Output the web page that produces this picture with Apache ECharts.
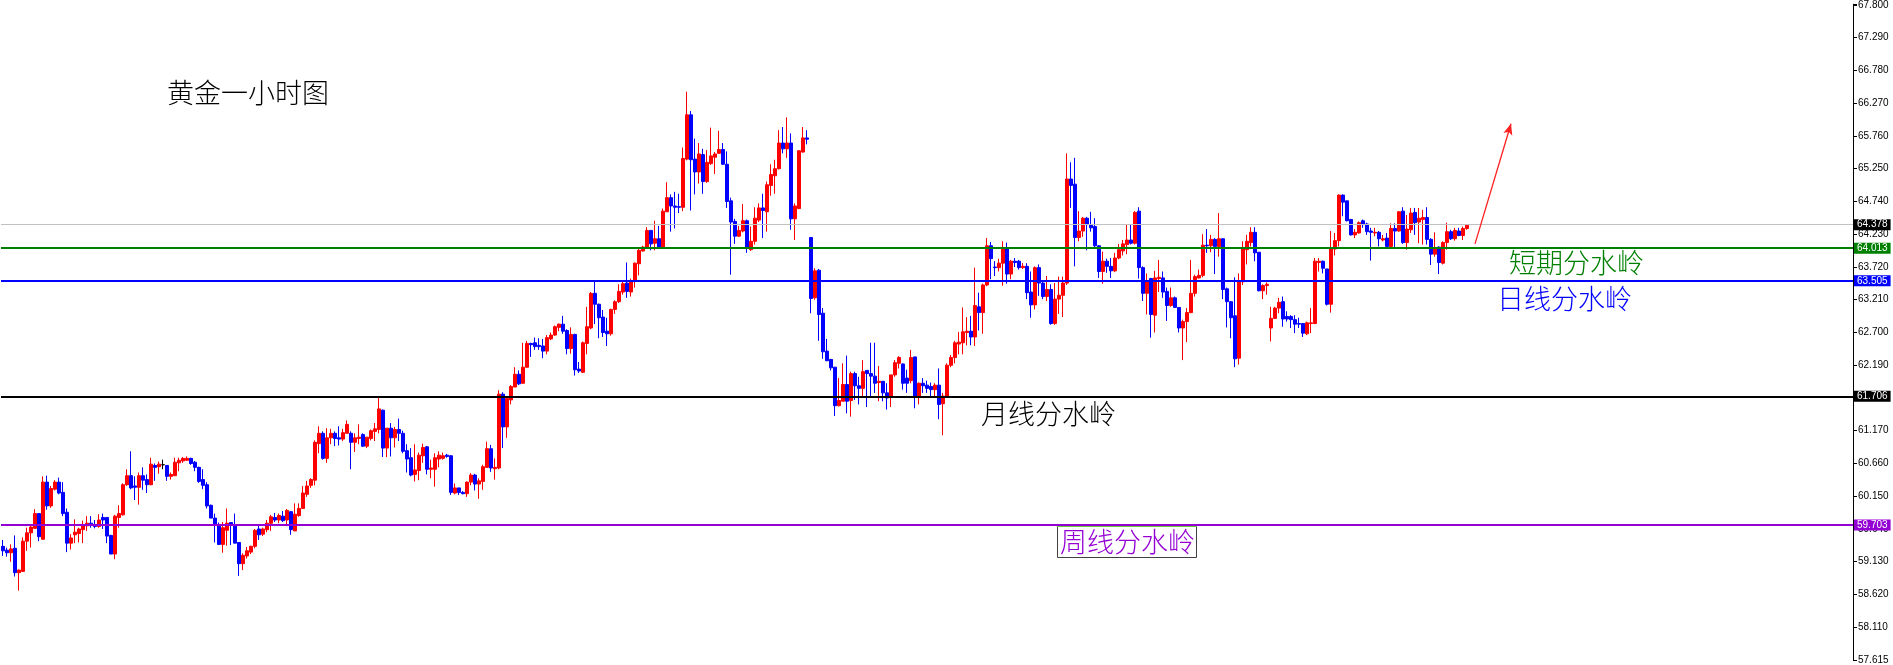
<!DOCTYPE html>
<html><head><meta charset="utf-8">
<script src="https://cdn.jsdelivr.net/npm/echarts@6.0.0/dist/echarts.min.js"></script>
<style>html,body{margin:0;padding:0;background:#fff;}#c{width:1893px;height:665px;}</style>
</head><body><div id="c"></div>
<script>
// Hourly gold candles, oldest first
const opens = [
59.37,59.31,59.27,59.34,58.96,58.98,59.45,59.58,59.65,59.88,
59.48,60.37,60.00,60.26,60.37,60.21,59.90,59.42,59.55,59.57,
59.63,59.69,59.73,59.70,59.68,59.82,59.82,59.54,59.25,59.82,
59.86,60.33,60.47,60.31,60.29,60.47,60.41,60.33,60.63,60.61,
60.64,60.63,60.46,60.47,60.67,60.70,60.71,60.74,60.68,60.60,
60.41,60.33,60.01,59.81,59.71,59.40,59.62,59.74,59.70,59.43,
59.10,59.22,59.28,59.37,59.64,59.56,59.63,59.73,59.82,59.78,
59.84,59.78,59.91,59.61,59.85,59.96,60.18,60.32,60.40,60.97,
61.13,60.74,61.06,61.13,61.06,61.04,61.13,61.13,60.99,61.05,
61.11,60.93,61.05,61.16,61.19,61.49,60.90,61.21,61.06,61.19,
61.13,60.86,60.75,60.49,60.55,60.78,60.92,60.57,60.57,60.73,
60.74,60.79,60.78,60.20,60.28,60.21,60.19,60.37,60.48,60.34,
60.38,60.60,60.89,60.58,60.59,61.74,61.23,61.65,61.85,62.05,
61.91,62.16,62.53,62.54,62.50,62.49,62.41,62.60,62.66,62.78,
62.83,62.73,62.45,62.67,62.13,62.08,62.53,62.77,63.31,63.14,
62.94,62.72,62.68,63.06,63.18,63.33,63.47,63.33,63.50,63.77,
63.97,64.03,64.29,64.09,64.16,64.02,64.58,64.80,64.67,64.66,
64.65,65.40,66.09,65.40,65.20,65.47,65.05,65.33,65.43,65.49,
65.55,65.32,64.75,64.43,64.20,64.28,64.44,63.99,64.12,64.45,
64.64,64.58,64.99,65.14,65.25,65.65,65.56,65.65,64.47,64.63,
65.51,65.73,64.18,63.24,63.67,63.00,62.41,62.28,62.16,61.56,
61.63,61.89,61.64,62.06,61.87,61.83,62.11,62.06,62.02,61.92,
61.94,61.76,61.71,62.04,62.22,62.21,61.99,61.95,62.32,61.71,
61.91,61.88,61.86,61.81,61.88,61.59,61.71,62.19,62.31,62.52,
62.54,62.70,62.72,62.63,63.10,63.01,63.44,64.05,63.72,63.71,
63.78,64.00,63.61,63.81,63.81,63.71,63.73,63.33,63.13,63.71,
63.47,63.26,63.37,62.84,63.22,63.28,63.47,65.09,65.01,64.18,
64.28,64.48,64.38,64.35,64.05,63.65,63.81,63.73,63.66,63.86,
63.97,64.07,64.14,64.09,64.59,63.71,63.31,63.54,62.97,63.54,
63.55,63.34,63.12,63.24,63.09,62.77,62.87,63.01,63.31,63.55,
63.59,64.06,64.05,64.15,64.04,64.16,63.38,63.18,62.96,62.30,
63.49,63.99,64.10,64.26,63.95,63.35,63.43,62.77,62.92,63.08,
63.18,62.95,62.95,62.90,62.84,62.84,62.68,62.84,62.84,63.79,
63.81,63.69,63.14,64.00,64.13,64.84,64.75,64.46,64.22,64.25,
64.44,64.39,64.28,64.25,64.26,64.14,64.17,64.04,64.32,64.28,
64.59,64.10,64.30,64.57,64.42,64.46,64.49,64.15,63.92,64.03,
63.78,64.10,64.27,64.16,64.28,64.21,64.32
];
const closes = [
59.30,59.27,59.33,58.96,59.00,59.45,59.58,59.67,59.88,59.52,
60.37,60.00,60.27,60.37,60.20,59.88,59.42,59.50,59.59,59.64,
59.70,59.73,59.71,59.68,59.78,59.78,59.53,59.25,59.84,59.88,
60.33,60.47,60.28,60.29,60.47,60.40,60.33,60.65,60.60,60.65,
60.64,60.46,60.49,60.68,60.71,60.74,60.74,60.66,60.60,60.38,
60.32,60.00,59.81,59.71,59.40,59.66,59.73,59.70,59.42,59.10,
59.23,59.30,59.37,59.62,59.55,59.64,59.73,59.83,59.78,59.85,
59.77,59.93,59.63,59.87,59.96,60.20,60.31,60.41,60.99,61.13,
60.74,61.06,61.13,61.05,61.04,61.14,61.27,60.99,61.06,61.07,
60.93,61.07,61.17,61.20,61.51,60.90,61.21,61.06,61.19,61.13,
60.85,60.73,60.48,60.56,60.79,60.91,60.57,60.59,60.75,60.79,
60.78,60.77,60.21,60.28,60.21,60.19,60.37,60.48,60.34,60.39,
60.61,60.89,60.59,60.60,61.74,61.23,61.67,61.86,62.05,61.90,
62.16,62.53,62.51,62.48,62.48,62.41,62.62,62.66,62.79,62.83,
62.72,62.45,62.67,62.12,62.10,62.54,62.79,63.31,63.14,62.93,
62.70,62.68,63.06,63.18,63.34,63.46,63.34,63.51,63.78,63.98,
64.03,64.29,64.08,64.16,64.03,64.59,64.80,64.67,64.65,64.65,
65.41,66.09,65.39,65.20,65.48,65.05,65.35,65.45,65.48,65.55,
65.32,64.74,64.42,64.20,64.29,64.44,64.03,64.12,64.48,64.64,
64.60,65.00,65.16,65.25,65.65,65.56,65.65,64.47,64.67,65.53,
65.73,65.71,63.23,63.66,62.98,62.40,62.26,62.15,61.56,61.64,
61.89,61.63,62.06,61.87,61.83,62.09,62.06,62.02,61.91,61.94,
61.76,61.68,62.04,62.23,62.31,61.91,61.91,62.31,61.71,61.91,
61.87,61.83,61.81,61.88,61.58,61.71,62.19,62.31,62.54,62.55,
62.71,62.72,62.63,63.12,63.01,63.44,64.05,63.85,63.71,63.78,
64.00,63.61,63.81,63.79,63.71,63.73,63.32,63.13,63.71,63.47,
63.26,63.37,62.84,63.22,63.28,63.47,65.09,64.99,64.18,64.28,
64.48,64.38,64.33,64.05,63.65,63.81,63.73,63.66,63.86,63.99,
64.08,64.14,64.09,64.57,63.71,63.31,63.49,62.98,63.55,63.56,
63.33,63.12,63.24,63.09,62.77,62.87,63.01,63.31,63.57,63.59,
64.06,64.05,64.15,64.04,64.16,63.37,63.18,62.93,62.29,63.49,
64.00,64.12,64.26,63.94,63.35,63.43,63.45,62.92,63.08,63.17,
62.91,62.91,62.90,62.83,62.83,62.69,62.85,62.85,63.81,63.81,
63.70,63.14,64.00,64.13,64.84,64.73,64.44,64.22,64.26,64.41,
64.38,64.27,64.26,64.26,64.16,64.16,64.04,64.32,64.28,64.58,
64.10,64.31,64.56,64.41,64.48,64.49,64.15,63.92,64.00,63.79,
64.10,64.27,64.16,64.29,64.21,64.32,64.37
];
const lows = [
59.22,59.21,59.13,58.90,58.68,58.97,59.30,59.35,59.64,59.45,
59.47,59.94,59.97,60.24,60.18,59.84,59.28,59.32,59.42,59.43,
59.42,59.61,59.66,59.65,59.66,59.64,59.42,59.25,59.17,59.66,
59.85,60.31,60.26,60.09,60.02,60.25,60.20,60.32,60.39,60.50,
60.57,60.39,60.41,60.47,60.54,60.67,60.70,60.64,60.54,60.36,
60.26,59.96,59.81,59.43,59.39,59.27,59.38,59.39,59.42,58.91,
59.00,59.18,59.25,59.34,59.47,59.53,59.59,59.61,59.75,59.73,
59.75,59.70,59.55,59.61,59.83,59.95,60.14,60.28,60.32,60.82,
60.72,60.67,60.96,60.93,60.94,61.01,61.13,60.57,60.84,60.96,
60.92,60.90,61.02,61.01,61.13,60.76,60.76,60.77,60.91,61.01,
60.82,60.52,60.46,60.38,60.40,60.67,60.49,60.43,60.30,60.60,
60.72,60.75,60.17,60.18,60.17,60.18,60.14,60.32,60.24,60.11,
60.25,60.59,60.53,60.41,60.57,60.90,61.06,61.58,61.85,61.88,
61.90,62.15,62.32,62.43,62.43,62.30,62.36,62.58,62.65,62.72,
62.68,62.36,62.37,62.03,62.07,62.07,62.36,62.75,62.83,62.61,
62.63,62.49,62.65,62.99,63.16,63.29,63.24,63.26,63.40,63.59,
63.96,64.01,63.98,63.98,64.00,64.01,64.58,64.27,64.32,64.56,
64.59,65.38,64.60,64.85,65.02,64.86,65.03,65.31,65.17,65.48,
65.31,64.64,63.60,64.08,64.19,64.26,63.94,63.97,64.07,64.42,
64.17,64.27,64.83,64.86,65.24,65.49,65.42,64.30,64.14,64.62,
65.50,65.63,63.00,63.21,62.57,62.29,62.26,62.11,61.40,61.55,
61.63,61.44,61.39,61.65,61.58,61.71,61.54,61.71,61.76,61.63,
61.63,61.50,61.54,62.01,62.14,61.81,61.76,61.91,61.52,61.58,
61.76,61.76,61.71,61.71,61.35,61.10,61.68,62.16,62.22,62.36,
62.36,62.50,62.50,62.49,62.73,62.68,63.42,63.53,63.58,63.65,
63.43,63.46,63.53,63.72,63.68,63.69,63.22,62.93,63.06,63.27,
63.22,63.19,62.82,62.82,62.99,62.94,63.44,64.64,63.73,64.12,
64.19,63.98,64.27,64.01,63.55,63.46,63.63,63.55,63.64,63.84,
63.90,63.92,64.07,64.07,63.54,63.19,62.98,62.62,62.70,63.33,
63.24,62.88,63.10,63.08,62.70,62.27,62.55,63.00,63.26,63.54,
63.56,63.94,63.95,63.61,63.88,63.22,62.78,62.61,62.16,62.20,
63.44,63.76,64.04,63.81,63.34,63.22,63.29,62.56,62.91,63.00,
62.79,62.87,62.77,62.69,62.77,62.63,62.66,62.69,62.83,63.65,
63.62,63.12,63.01,63.90,64.04,64.51,64.43,64.21,64.17,64.24,
64.33,64.22,63.82,64.20,64.04,64.12,64.02,64.02,64.03,64.27,
64.08,63.99,64.25,64.22,64.09,64.07,64.07,63.75,63.88,63.61,
63.76,63.99,64.14,64.13,64.20,64.14,64.30
];
const highs = [
59.47,59.35,59.40,59.54,59.01,59.51,59.66,59.71,59.95,59.88,
60.46,60.47,60.31,60.40,60.44,60.37,59.96,59.56,59.79,59.66,
59.77,59.84,59.84,59.78,59.87,59.88,59.82,59.55,59.86,60.01,
60.35,60.57,60.85,60.46,60.52,60.60,60.49,60.75,60.66,60.69,
60.72,60.63,60.52,60.75,60.75,60.76,60.77,60.75,60.70,60.61,
60.57,60.37,60.02,59.88,59.74,59.75,59.96,59.74,59.88,59.43,
59.26,59.36,59.38,59.64,59.69,59.66,59.78,59.86,59.89,59.88,
59.92,59.95,59.91,60.04,60.04,60.31,60.39,60.43,61.02,61.24,
61.16,61.21,61.20,61.16,61.24,61.20,61.33,61.16,61.13,61.27,
61.13,61.07,61.19,61.29,61.68,61.50,61.21,61.29,61.23,61.36,
61.17,60.96,60.90,60.96,60.83,60.97,60.93,60.72,60.82,60.85,
60.83,60.81,60.79,60.35,60.28,60.23,60.38,60.51,60.50,60.43,
60.64,61.00,60.95,60.74,61.80,61.77,61.70,61.88,62.16,62.11,
62.54,62.57,62.54,62.62,62.61,62.60,62.66,62.70,62.81,62.84,
62.96,62.75,62.78,62.68,62.24,62.56,63.10,63.33,63.50,63.15,
63.05,62.93,63.07,63.20,63.45,63.50,63.79,63.54,63.79,64.00,
64.05,64.34,64.29,64.44,64.36,64.63,65.04,64.85,64.89,64.86,
65.58,66.45,66.15,65.72,65.65,65.56,65.54,65.89,65.51,65.84,
65.65,65.52,64.80,64.47,64.36,64.70,64.46,64.35,64.65,64.71,
64.86,65.05,65.32,65.39,65.85,65.90,66.05,65.80,64.71,65.54,
65.90,65.85,64.18,63.70,63.69,63.08,62.60,62.29,62.16,61.99,
62.22,62.34,62.09,62.09,62.01,62.27,62.11,62.54,62.54,62.18,
61.94,61.91,62.04,62.27,62.33,62.22,62.12,62.43,62.32,61.92,
61.99,61.95,61.92,61.91,62.14,61.76,62.22,62.35,62.57,62.71,
63.09,62.94,62.96,63.71,63.32,63.46,64.17,64.11,63.81,63.85,
64.12,64.10,63.83,63.86,63.83,63.78,63.78,63.65,63.73,63.76,
63.49,63.58,63.45,63.47,63.57,63.57,65.49,65.35,65.42,64.59,
64.50,64.50,64.58,64.48,64.06,63.96,63.85,63.86,63.94,64.08,
64.14,64.39,64.38,64.59,64.65,63.73,63.62,63.55,63.66,63.83,
63.65,63.40,63.40,63.26,63.09,62.90,63.08,63.83,63.60,63.68,
64.23,64.31,64.22,64.17,64.56,64.16,63.40,63.19,63.56,63.62,
64.12,64.22,64.34,64.34,63.95,63.45,63.48,63.10,63.10,63.24,
63.26,63.03,62.97,62.97,62.93,62.84,62.87,63.08,63.86,63.86,
63.82,63.69,64.28,64.25,64.85,64.85,64.75,64.47,64.31,64.43,
64.46,64.41,64.33,64.33,64.28,64.22,64.25,64.40,64.40,64.59,
64.65,64.53,64.64,64.64,64.64,64.61,64.65,64.17,64.26,64.04,
64.12,64.41,64.30,64.33,64.33,64.35,64.38
];

// Price-axis tick labels, bottom to top
const tickLabels = ['57.615','58.110','58.620','59.130','59.640','60.150','60.660','61.170','61.680','62.190',
  '62.700','63.210','63.720','64.230','64.740','65.250','65.760','66.270','66.780','67.290','67.800'];
const axisMin = 57.6, axisMax = 67.812, axisStep = 0.51;

// Horizontal levels and their price tags
const levelValues = [64.378, 64.013, 63.505, 61.706, 59.703];
const levelTags   = ['64.378', '64.013', '63.505', '61.706', '59.703'];

// Level captions
const captions = ['黄金一小时图', '短期分水岭', '日线分水岭', '月线分水岭', '周线分水岭'];

// Forecast arrow (category index, price)
const arrowFrom = [368, 64.08];
const arrowTo = [377, 65.95];

const slotCount = 463;
const categories = Array.from({length: slotCount}, (_, i) => 'H' + i);
const candleData = opens.map((o, i) => [o, closes[i], lows[i], highs[i]]);

const lineColors = ['#c0c0c0', '#008000', '#0000ff', '#000000', '#9400d3'];
const lineWidths = [1, 2, 2, 2, 2];
const tagBg = ['#000000', '#008000', '#0000ff', '#000000', '#9400d3'];
const axisFont = '"Liberation Sans", Arial, sans-serif';

const markData = levelValues.map((v, i) => ({
  yAxis: v,
  lineStyle: {color: lineColors[i], width: lineWidths[i], type: 'solid'},
  label: {
    show: true, position: 'end', distance: 1, formatter: levelTags[i],
    color: '#fff', backgroundColor: tagBg[i], padding: [1, 3, 0, 3], lineHeight: 10,
    fontSize: 10, fontFamily: axisFont
  }
}));
markData.push([
  {coord: arrowFrom, symbol: 'none', lineStyle: {color: '#ff2020', width: 1.3, type: 'solid'}, label: {show: false}},
  {coord: arrowTo, symbol: 'arrow', symbolSize: [7, 11]}
]);

const cjkFont = '"Noto Sans CJK SC", "Noto Sans CJK JP", sans-serif';
function caption(text, x, y, color) {
  return {type: 'text', z: 100, x: x, y: y,
    style: {text: text, fill: color, fontSize: 27, fontWeight: 300, fontFamily: cjkFont,
            verticalAlign: 'middle', textVerticalAlign: 'middle'}};
}

const chart = echarts.init(document.getElementById('c'), null, {renderer: 'canvas'});
chart.setOption({
  animation: false,
  backgroundColor: '#ffffff',
  grid: {left: 1, right: 40, top: 0, bottom: 0},
  xAxis: {type: 'category', data: categories, show: false, boundaryGap: true},
  yAxis: {
    type: 'value', position: 'right', min: axisMin, max: axisMax, interval: axisStep, scale: true,
    axisLine: {show: true, lineStyle: {color: '#000', width: 1}},
    axisTick: {show: true, inside: false, length: 4, lineStyle: {color: '#000', width: 1}},
    splitLine: {show: false},
    axisLabel: {
      margin: 5, color: '#000', fontSize: 10, fontFamily: axisFont,
      formatter: function (v) {
        const i = Math.round((v - axisMin) / axisStep);
        return Math.abs(axisMin + i * axisStep - v) < 1e-6 ? (tickLabels[i] || '') : '';
      }
    }
  },
  series: [{
    type: 'candlestick',
    data: candleData,
    barWidth: 2.6,
    silent: true,
    itemStyle: {
      color: '#ff0000', color0: '#0000ff',
      borderColor: '#ff0000', borderColor0: '#0000ff', borderColorDoji: '#000000',
      borderWidth: 1
    },
    markLine: {silent: true, symbol: 'none', animation: false, precision: 3, data: markData}
  }],
  graphic: [
    caption(captions[0], 167, 93, '#000000'),
    caption(captions[1], 1509, 263, '#008000'),
    caption(captions[2], 1497, 299, '#0000ff'),
    caption(captions[3], 981, 414, '#000000'),
    {type: 'rect', z: 99, shape: {x: 1057.5, y: 526.5, width: 139, height: 31},
     style: {fill: '#ffffff', stroke: '#404040', lineWidth: 1}},
    {type: 'line', z: 99, shape: {x1: 1057, y1: 526.5, x2: 1197, y2: 526.5},
     style: {stroke: '#66cc33', lineWidth: 1}},
    caption(captions[4], 1060, 542, '#9400d3')
  ]
});
</script>
</body></html>
